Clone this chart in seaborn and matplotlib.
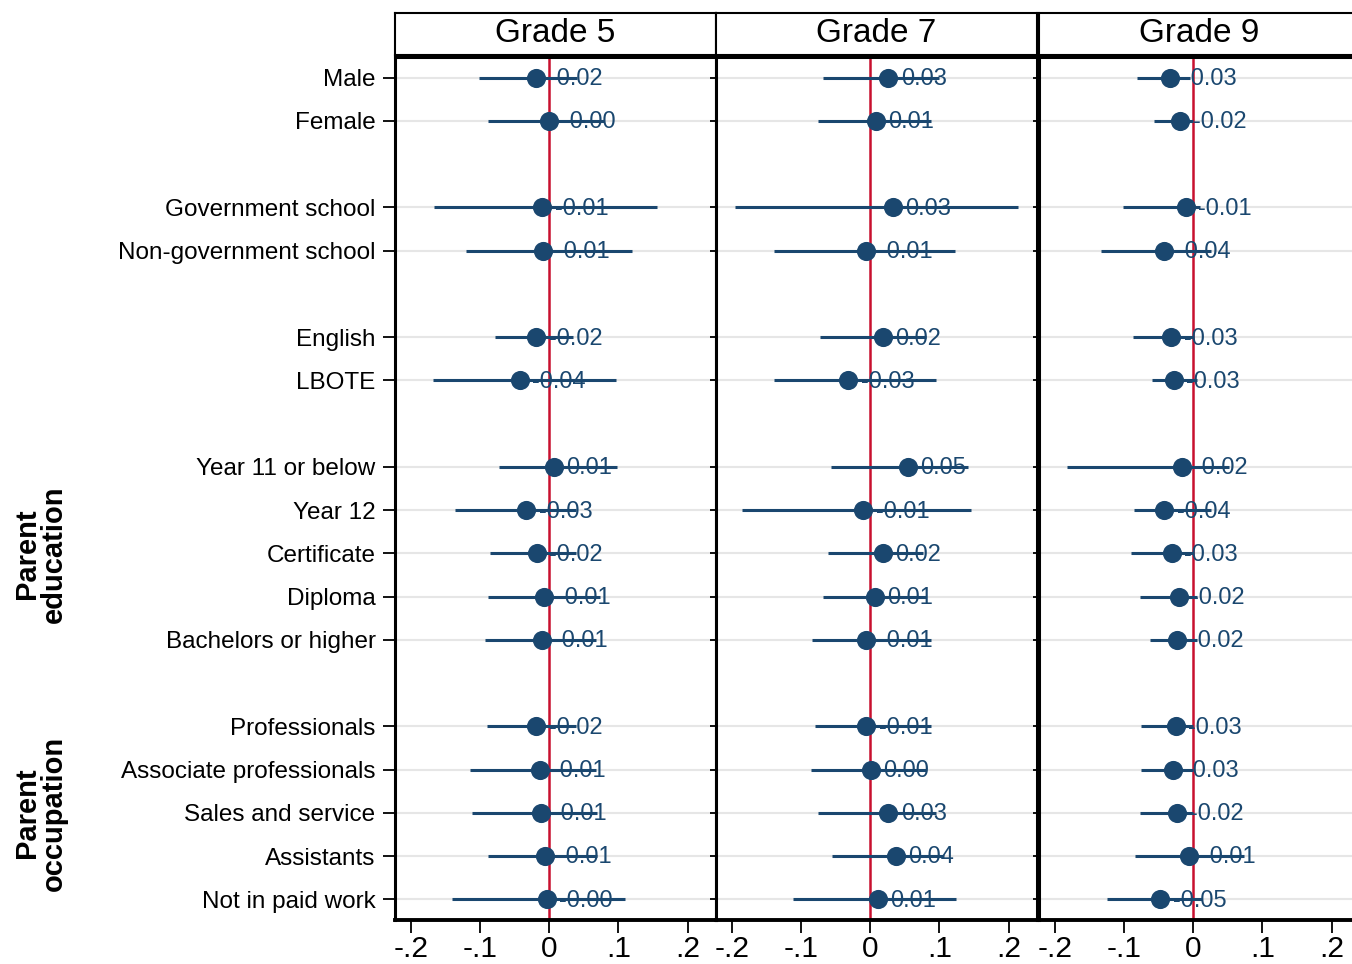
import numpy as np
import pandas as pd
import matplotlib
matplotlib.use("Agg")
import matplotlib.pyplot as plt
import seaborn as sns

# Row labels and group sizes (a blank row between groups)
terms = ["Male", "Female", "Government school", "Non-government school",
         "English", "LBOTE", "Year 11 or below", "Year 12", "Certificate",
         "Diploma", "Bachelors or higher", "Professionals",
         "Associate professionals", "Sales and service", "Assistants",
         "Not in paid work"]
group_sizes = [2, 2, 2, 5, 5]
grades = ["Grade 5", "Grade 7", "Grade 9"]

# Grade 5 estimates and confidence intervals
g5_est = [-0.019, -0.000, -0.010, -0.009, -0.019, -0.043, 0.007, -0.033,
          -0.018, -0.007, -0.011, -0.019, -0.014, -0.012, -0.006, -0.004]
g5_lo = [-0.102, -0.089, -0.167, -0.120, -0.079, -0.168, -0.072, -0.136,
         -0.086, -0.088, -0.093, -0.090, -0.114, -0.112, -0.088, -0.141]
g5_hi = [0.040, 0.079, 0.155, 0.120, 0.035, 0.096, 0.098, 0.038,
         0.038, 0.074, 0.067, 0.038, 0.067, 0.069, 0.069, 0.110]
g5_lab = ["-0.02", "-0.00", "-0.01", "-0.01", "-0.02", "-0.04", "0.01", "-0.03",
          "-0.02", "-0.01", "-0.01", "-0.02", "-0.01", "-0.01", "-0.01", "-0.00"]

# Grade 7
g7_est = [0.026, 0.008, 0.033, -0.006, 0.018, -0.032, 0.054, -0.010,
          0.018, 0.007, -0.006, -0.006, 0.001, 0.026, 0.037, 0.011]
g7_lo = [-0.069, -0.076, -0.196, -0.139, -0.073, -0.139, -0.057, -0.185,
         -0.061, -0.069, -0.084, -0.080, -0.086, -0.076, -0.055, -0.111]
g7_hi = [0.100, 0.088, 0.213, 0.122, 0.081, 0.095, 0.141, 0.146,
         0.076, 0.081, 0.088, 0.088, 0.081, 0.095, 0.107, 0.124]
g7_lab = ["0.03", "0.01", "0.03", "-0.01", "0.02", "-0.03", "0.05", "-0.01",
          "0.02", "0.01", "-0.01", "-0.01", "0.00", "0.03", "0.04", "0.01"]

# Grade 9
g9_est = [-0.033, -0.019, -0.011, -0.042, -0.032, -0.028, -0.017, -0.042,
          -0.031, -0.021, -0.023, -0.025, -0.030, -0.023, -0.006, -0.048]
g9_lo = [-0.082, -0.057, -0.102, -0.133, -0.087, -0.060, -0.183, -0.086,
         -0.090, -0.077, -0.062, -0.075, -0.076, -0.077, -0.084, -0.124]
g9_hi = [-0.005, 0.000, 0.010, 0.025, 0.000, 0.005, 0.051, 0.025,
         0.000, 0.005, 0.005, 0.000, 0.000, 0.000, 0.073, 0.013]
g9_lab = ["-0.03", "-0.02", "-0.01", "-0.04", "-0.03", "-0.03", "-0.02", "-0.04",
          "-0.03", "-0.02", "-0.02", "-0.03", "-0.03", "-0.02", "-0.01", "-0.05"]

xticks = [-0.2, -0.1, 0, 0.1, 0.2]
xtick_labels = ["-.2", "-.1", "0", ".1", ".2"]

# row positions: one empty slot between groups
pos = []
start = 0
for n in group_sizes:
    pos += list(range(start, start + n))
    start += n + 1

frames = []
for g, est, lo, hi, lab in [("Grade 5", g5_est, g5_lo, g5_hi, g5_lab),
                            ("Grade 7", g7_est, g7_lo, g7_hi, g7_lab),
                            ("Grade 9", g9_est, g9_lo, g9_hi, g9_lab)]:
    frames.append(pd.DataFrame({"grade": g, "term": terms, "pos": pos,
                                "est": est, "lo": lo, "hi": hi, "lab": lab}))
df = pd.concat(frames, ignore_index=True)

sns.set_theme(style="white")
plt.rcParams["font.family"] = ["Liberation Sans", "DejaVu Sans"]
plt.rcParams["text.color"] = "black"
plt.rcParams["xtick.color"] = "black"
plt.rcParams["ytick.color"] = "black"

navy = "#1a476f"
red = "#c8102e"

fig = plt.figure(figsize=(13.52, 9.64), dpi=100)
W, H = 1352, 964
lefts = [395, 716, 1039]
pw = 321
top, bottom = 57, 920

for i, g in enumerate(grades):
    d = df[df["grade"] == g]
    ax = fig.add_axes([lefts[i] / W, (H - bottom) / H, pw / W, (bottom - top) / H])
    for y in d["pos"]:
        ax.axhline(y, color="#e6e6e6", lw=1.5, zorder=0)
    ax.axvline(0, color=red, lw=1.8, zorder=1)
    for _, r in d.iterrows():
        ax.annotate(r["lab"], (r["est"], r["pos"]), xytext=(9, -1),
                    textcoords="offset points", va="center", ha="left",
                    fontsize=17, color=navy, zorder=2)
    ax.hlines(d["pos"], d["lo"], d["hi"], color=navy, lw=2.2, zorder=3)
    sns.scatterplot(data=d, x="est", y="pos", ax=ax, color=navy, s=190,
                    edgecolor=navy, linewidth=0, zorder=4, legend=False)
    ax.set_xlim(-0.223, 0.241)
    ax.set_ylim(19.48, -0.48)
    ax.set_xticks(xticks)
    ax.set_xticklabels(xtick_labels, fontsize=21.5)
    ax.set_yticks(pos)
    if i == 0:
        ax.set_yticklabels(terms, fontsize=17.5)
    else:
        ax.set_yticklabels([])
    ax.tick_params(axis="both", which="both", direction="out", length=9,
                   width=1.3, color="black", labelcolor="black",
                   left=True, bottom=True, pad=2)
    ax.tick_params(axis="y", length=9 if i == 0 else 4, pad=5)
    ax.set_xlabel("")
    ax.set_ylabel("")
    for s in ax.spines.values():
        s.set_color("black")
        s.set_linewidth(2.2)
    ax.spines["bottom"].set_linewidth(2.8)

    # header strip
    hax = fig.add_axes([lefts[i] / W, (H - 55) / H, pw / W, 42 / H])
    hax.set_xticks([])
    hax.set_yticks([])
    for s in hax.spines.values():
        s.set_color("black")
        s.set_linewidth(1.5)
    hax.text(0.5, 0.5, g, ha="center", va="center", fontsize=24,
             color="black", transform=hax.transAxes)

# group labels on the far left
fig.text(40 / W, 1 - 554 / H, "Parent\neducation", rotation=90, ha="center",
         va="center", fontsize=21, fontweight="bold", linespacing=0.95,
         color="black")
fig.text(40 / W, 1 - 813 / H, "Parent\noccupation", rotation=90, ha="center",
         va="center", fontsize=21, fontweight="bold", linespacing=0.95,
         color="black")

plt.savefig("out.png", dpi=100)
